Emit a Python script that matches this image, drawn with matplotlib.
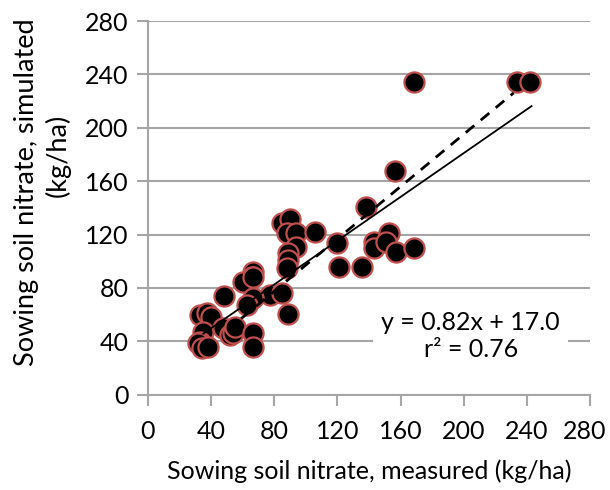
"""Sowing soil nitrate: simulated vs measured scatter, saved to out.png."""

import matplotlib

matplotlib.use("Agg")
import matplotlib.pyplot as plt
from matplotlib.transforms import ScaledTranslation

plt.rcParams["font.family"] = ["Lato", "DejaVu Sans"]

# measured (x) and simulated (y) sowing soil nitrate, kg/ha
measured = [
    168.7, 233.6, 242.3, 156.8, 138.0,
    84.8, 89.7, 88.0, 93.9, 106.0, 93.9, 89.0, 89.0, 88.0,
    120.0, 120.8, 135.5, 143.1, 143.1, 152.6, 150.5, 156.9, 168.5,
    66.8, 65.8, 60.4, 66.8, 77.4, 84.8, 66.8, 63.0, 89.0, 48.0,
    32.9, 37.1, 40.0, 35.0, 32.9, 31.8, 34.0, 38.2,
    47.7, 52.0, 54.0, 55.1, 66.8, 66.8,
]
simulated = [
    234.0, 234.0, 234.0, 167.8, 141.0,
    128.4, 131.4, 121.0, 120.9, 122.0, 110.9, 105.9, 100.9, 94.7,
    113.6, 96.0, 96.0, 114.6, 109.7, 120.9, 114.6, 107.1, 109.7,
    92.1, 88.4, 84.6, 88.0, 74.7, 76.0, 72.2, 67.5, 60.4, 73.8,
    60.0, 61.0, 58.5, 47.2, 39.7, 38.5, 34.8, 36.0,
    49.7, 44.7, 46.0, 51.0, 46.0, 36.0,
]

# fitted regression y = 0.82x + 17.0
fit_slope = 0.82
fit_intercept = 17.0
fit_x = [35.0, 243.0]

# dashed reference line end points
ref_x = [59.0, 231.7]
ref_y = [57.0, 226.2]

ticks = [0, 40, 80, 120, 160, 200, 240, 280]

fig = plt.figure(figsize=(6.1, 4.9), dpi=100)
ax = fig.add_axes([0.2426, 0.1945, 0.7245, 0.7625])

grid_col = "#a6a6a6"
ax.set_xlim(0, 280)
ax.set_ylim(0, 280)
ax.set_xticks(ticks)
ax.set_yticks(ticks)
ax.grid(axis="y", color=grid_col, linewidth=1.5, zorder=0)
ax.set_axisbelow(True)
for side in ("top", "right"):
    ax.spines[side].set_visible(False)
for side in ("left", "bottom"):
    ax.spines[side].set_color(grid_col)
    ax.spines[side].set_linewidth(1.5)
ax.tick_params(axis="both", direction="out", length=8, width=1.5, color=grid_col,
               labelsize=18)
ax.tick_params(axis="x", pad=10)
ax.tick_params(axis="y", pad=6)

# nudge the last x tick label so it stays inside the canvas
last = ax.get_xticklabels()[-1]
last.set_transform(last.get_transform() + ScaledTranslation(-4 / 72, 0, fig.dpi_scale_trans))

ax.plot(measured, simulated, "o", markersize=14.5, markerfacecolor="black",
        markeredgecolor="#c0504d", markeredgewidth=1.6, zorder=3, clip_on=False)

fit_y = [fit_slope * x + fit_intercept for x in fit_x]
ax.plot(fit_x, fit_y, color="black", linewidth=1.3, zorder=4)
ax.plot(ref_x, ref_y, color="black", linewidth=2.0, linestyle=(0, (4, 3)), zorder=4)

ax.text(204.5, 44.0, "y = 0.82x + 17.0\nr² = 0.76", ha="center", va="center",
        fontsize=18, linespacing=1.2, zorder=5,
        bbox=dict(facecolor="white", edgecolor="none", pad=6))

ax.set_xlabel("Sowing soil nitrate, measured (kg/ha)", fontsize=18, labelpad=12)

# two-line y label, each line placed as in the reference
fig.text(0.044, 0.608, "Sowing soil nitrate, simulated", rotation=90,
         ha="center", va="center", fontsize=19.5)
fig.text(0.095, 0.682, "(kg/ha)", rotation=90, ha="center", va="center",
         fontsize=19.5)

fig.savefig("out.png", dpi=100)
